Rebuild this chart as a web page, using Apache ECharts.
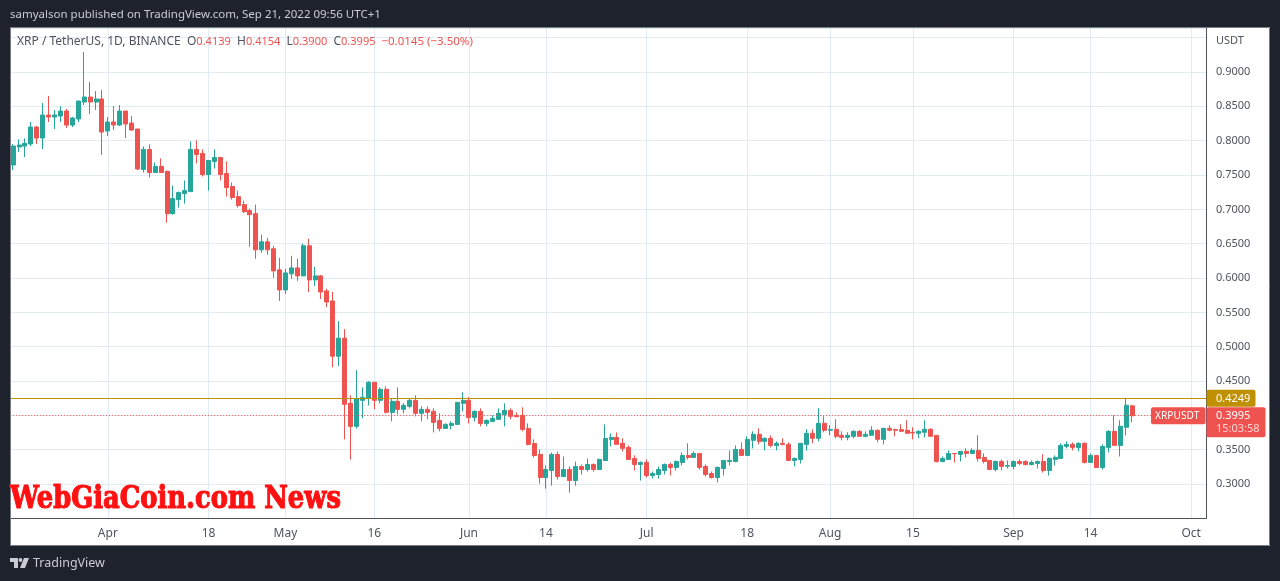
<!DOCTYPE html>
<html><head><meta charset="utf-8">
<style>html,body{margin:0;padding:0;background:#1e222d}#c{width:1280px;height:581px}</style>
<script src="https://cdn.jsdelivr.net/npm/echarts@6/dist/echarts.min.js"></script>
</head><body><div id="c"></div>
<script>
const firstDay = '2022-03-16';
const slotCount = 202;
const opens = [.7646,.7908,.7922,.7952,.8199,.8039,.8374,.8345,.8359,.8432,
.8228,.8316,.8563,.8636,.8563,.8607,.8141,.8272,.8228,.8432,
.8257,.8170,.7581,.7873,.7537,.7625,.7552,.6938,.7142,.7230,
.7259,.7873,.7815,.7508,.7698,.7756,.7522,.7332,.7186,.7069,
.6982,.6938,.6411,.6528,.6426,.6119,.5827,.6061,.6148,.6031,
.6470,.5973,.6031,.5812,.5666,.4862,.5125,.4176,.3840,.4219,
.4249,.4482,.4219,.4380,.4044,.4205,.4088,.4132,.4219,.4030,
.4088,.4059,.3927,.3810,.3854,.3869,.4176,.4219,.3971,.4059,
.3883,.3913,.3942,.4015,.4073,.4000,.4000,.3810,.3591,.3431,
.3095,.3197,.3431,.3109,.3212,.3051,.3255,.3212,.3285,.3212,
.3343,.3650,.3679,.3593,.3534,.3373,.3285,.3315,.3124,.3139,
.3198,.3285,.3241,.3315,.3417,.3388,.3446,.3256,.3154,.3095,
.3227,.3329,.3329,.3505,.3417,.3637,.3724,.3622,.3666,.3563,
.3593,.3578,.3344,.3359,.3578,.3739,.3666,.3885,.3783,.3798,
.3710,.3680,.3695,.3768,.3695,.3710,.3783,.3651,.3812,.3793,
.3793,.3783,.3754,.3739,.3754,.3798,.3710,.3329,.3359,.3446,
.3432,.3476,.3446,.3490,.3388,.3344,.3212,.3329,.3261,.3256,
.3329,.3329,.3285,.3300,.3329,.3198,.3359,.3373,.3549,.3578,
.3534,.3593,.3315,.3417,.3241,.3534,.3768,.3563,.3827,.4139];
const closes = [.7922,.7937,.7961,.8199,.8039,.8374,.8345,.8374,.8432,.8228,
.8330,.8578,.8636,.8563,.8607,.8126,.8272,.8228,.8432,.8243,
.8155,.7587,.7873,.7537,.7625,.7537,.6938,.7157,.7245,.7274,
.7873,.7800,.7508,.7712,.7756,.7508,.7318,.7172,.7055,.6967,
.6923,.6411,.6528,.6411,.6104,.5827,.6075,.6148,.6031,.6470,
.5973,.6031,.5797,.5651,.4862,.5125,.4161,.3840,.4244,.4263,
.4482,.4219,.4380,.4044,.4205,.4088,.4146,.4219,.4030,.4088,
.4044,.3898,.3810,.3869,.3883,.4190,.4219,.3971,.4059,.3883,
.3927,.3957,.4030,.4073,.3986,.3981,.3796,.3577,.3416,.3095,
.3212,.3431,.3109,.3212,.3051,.3255,.3212,.3285,.3212,.3358,
.3664,.3679,.3578,.3520,.3359,.3285,.3315,.3124,.3154,.3212,
.3285,.3241,.3329,.3417,.3388,.3446,.3241,.3139,.3095,.3241,
.3344,.3344,.3505,.3417,.3651,.3724,.3622,.3666,.3563,.3593,
.3578,.3344,.3373,.3593,.3739,.3666,.3885,.3783,.3793,.3695,
.3680,.3710,.3768,.3695,.3724,.3783,.3651,.3812,.3783,.3783,
.3768,.3739,.3744,.3768,.3798,.3695,.3329,.3373,.3446,.3441,
.3476,.3446,.3490,.3373,.3329,.3212,.3329,.3256,.3271,.3329,
.3300,.3285,.3315,.3329,.3198,.3373,.3388,.3563,.3578,.3534,
.3593,.3315,.3417,.3241,.3549,.3768,.3563,.3841,.4149,.3995];
const lows = [.7573,.7835,.7762,.7922,.7952,.7879,.8272,.8170,.8272,.8185,
.8199,.8272,.8519,.8388,.8447,.7791,.8068,.8155,.8214,.8039,
.8141,.7573,.7537,.7464,.7537,.7537,.6806,.6923,.7025,.7084,
.7259,.7669,.7479,.7274,.7596,.7420,.7186,.7142,.7025,.6947,
.6455,.6280,.6368,.6338,.6002,.5666,.5768,.5987,.5958,.6031,
.5797,.5885,.5695,.5578,.4701,.4716,.3650,.3358,.3810,.3957,
.4146,.4088,.4176,.4030,.3913,.4015,.4030,.4103,.3986,.3913,
.3942,.3752,.3767,.3810,.3796,.3869,.4059,.3883,.3913,.3840,
.3840,.3898,.3942,.3840,.3942,.3971,.3767,.3562,.3387,.3007,
.2934,.2978,.3066,.3109,.2876,.2978,.3139,.3182,.3182,.3212,
.3343,.3548,.3577,.3476,.3359,.3198,.3051,.3095,.3080,.3080,
.3139,.3124,.3198,.3271,.3359,.3388,.3212,.3110,.3080,.3022,
.3124,.3271,.3315,.3417,.3417,.3520,.3578,.3490,.3534,.3490,
.3563,.3344,.3256,.3300,.3490,.3593,.3622,.3754,.3710,.3666,
.3637,.3637,.3666,.3695,.3680,.3710,.3607,.3578,.3768,.3695,
.3768,.3739,.3651,.3666,.3680,.3695,.3315,.3315,.3359,.3315,
.3329,.3388,.3446,.3329,.3300,.3212,.3183,.3198,.3227,.3212,
.3271,.3271,.3271,.3227,.3168,.3124,.3271,.3373,.3520,.3490,
.3476,.3300,.3315,.3241,.3212,.3461,.3563,.3402,.3710,.3900];
const highs = [.7952,.8019,.8034,.8272,.8214,.8549,.8651,.8447,.8505,.8461,
.8345,.8578,.9291,.8854,.8723,.8738,.8345,.8505,.8519,.8432,
.8359,.8170,.7917,.7946,.7683,.7742,.7566,.7347,.7259,.7420,
.7990,.8005,.7873,.7712,.7873,.7756,.7698,.7391,.7274,.7128,
.7011,.7069,.6631,.6587,.6470,.6294,.6134,.6324,.6280,.6499,
.6572,.6163,.6046,.5841,.5797,.5373,.5257,.4292,.4658,.4409,
.4497,.4482,.4409,.4424,.4249,.4409,.4176,.4249,.4292,.4132,
.4132,.4103,.4030,.3883,.3913,.4190,.4336,.4263,.4073,.4103,
.3942,.4000,.4103,.4176,.4103,.4044,.4117,.3883,.3650,.3504,
.3270,.3460,.3474,.3401,.3255,.3328,.3285,.3372,.3299,.3372,
.3869,.3737,.3752,.3666,.3563,.3417,.3329,.3359,.3183,.3256,
.3300,.3315,.3344,.3461,.3593,.3476,.3446,.3285,.3183,.3256,
.3344,.3490,.3563,.3607,.3695,.3768,.3812,.3680,.3710,.3622,
.3666,.3607,.3388,.3593,.3798,.3798,.4105,.3988,.3856,.3944,
.3768,.3754,.3783,.3783,.3768,.3841,.3798,.3812,.3856,.3807,
.3871,.3929,.3827,.3783,.3929,.3812,.3710,.3402,.3490,.3446,
.3476,.3520,.3520,.3710,.3446,.3344,.3344,.3359,.3344,.3344,
.3359,.3344,.3344,.3344,.3432,.3388,.3417,.3593,.3622,.3607,
.3607,.3607,.3446,.3417,.3578,.3783,.4002,.3929,.4251,.4154];
const tickDates = ['2022-04-01','2022-04-18','2022-05-01','2022-05-16','2022-06-01','2022-06-14','2022-07-01','2022-07-18','2022-08-01','2022-08-15','2022-09-01','2022-09-14','2022-10-01'];
const tickLabels = ['Apr','18','May','16','Jun','14','Jul','18','Aug','15','Sep','14','Oct'];
const resistanceLevel = 0.4249;
const lastPrice = 0.3995;
const yHidden = ['0.2500','0.4000','0.9500'];

const FONT = '"Noto Sans", sans-serif';
const TEXT = '#50535e', UP = '#26a69a', DOWN = '#ef5350', GOLD = '#bf9000', DARK = '#1e222d', GRID = '#e1ecf2';

const categories = [];
const d0 = new Date(firstDay + 'T00:00:00Z');
for (let i = 0; i < slotCount; i++) categories.push(new Date(d0.getTime() + i * 86400000).toISOString().slice(0, 10));
const candles = opens.map((o, i) => [o, closes[i], lows[i], highs[i]]);
const isTick = (i, v) => tickDates.includes(v);

const chart = echarts.init(document.getElementById('c'), null, {renderer: 'canvas', width: 1280, height: 581});
const gridLeft = 10.2, gridTop = 28, gridH = 490.4;
function rich(x, y, text, r, z) {
  return {type: 'text', x, y, z: z || 50, silent: true, style: {text, rich: r, fontFamily: FONT, fontSize: 11, fill: TEXT, verticalAlign: 'middle'}};
}
function tag(x, y, w, h, fill, z) {
  return {type: 'rect', z: z || 40, silent: true, shape: {x, y, width: w, height: h, r: 2}, style: {fill}};
}
function label(x, y, text, fill, size) {
  return {type: 'text', x, y, z: 60, silent: true, style: {text, fill, fontFamily: FONT, fontSize: size || 11, verticalAlign: 'middle'}};
}
chart.setOption({
  animation: false,
  backgroundColor: DARK,
  grid: {left: gridLeft, top: gridTop, width: 1206 - gridLeft, height: gridH, containLabel: false},
  xAxis: {
    type: 'category', data: categories, boundaryGap: true,
    axisLine: {show: true, lineStyle: {color: TEXT, width: 1}},
    axisTick: {show: false},
    axisLabel: {interval: isTick, color: TEXT, fontFamily: FONT, fontSize: 12, margin: 9,
      formatter: v => tickLabels[tickDates.indexOf(v)] || ''},
    splitLine: {show: true, interval: isTick, alignWithLabel: true, lineStyle: {color: GRID, width: 1}}
  },
  yAxis: {
    type: 'value', position: 'right', min: 0.25, max: 0.9641, interval: 0.05, scale: true,
    axisLine: {show: true, lineStyle: {color: TEXT, width: 1}},
    axisTick: {show: false},
    axisLabel: {color: TEXT, fontFamily: FONT, fontSize: 11, margin: 10, padding: [4, 0, 0, 0], showMinLabel: false, showMaxLabel: false,
      formatter: v => { const s = v.toFixed(4); return yHidden.includes(s) ? '' : s; }},
    splitLine: {show: true, lineStyle: {color: GRID, width: 1}}
  },
  series: [{
    type: 'candlestick', data: candles, barWidth: 4.5,
    itemStyle: {color: UP, color0: DOWN, borderColor: UP, borderColor0: DOWN, borderWidth: 1},
    markLine: {silent: true, symbol: 'none', animation: false, precision: 4, label: {show: false},
      data: [
        {yAxis: resistanceLevel, lineStyle: {color: GOLD, width: 1, type: 'solid'}},
        {yAxis: lastPrice, lineStyle: {color: DOWN, width: 1, type: [1, 2]}}
      ]}
  }]
});
const yRes = chart.convertToPixel({yAxisIndex: 0}, resistanceLevel);
const yLast = chart.convertToPixel({yAxisIndex: 0}, lastPrice);
const redRich = {g: {fill: TEXT, fontFamily: FONT, fontSize: 12}, r: {fill: DOWN, fontFamily: FONT, fontSize: 11}, d: {fill: DOWN, fontFamily: FONT, fontSize: 11.5}};
chart.setOption({graphic: {elements: [
  {type: 'rect', z: -5, zlevel: 0, silent: true, shape: {x: 10, y: 27, width: 1260, height: 519}, style: {fill: '#ffffff'}},
  {type: 'rect', z: 30, silent: true, shape: {x: 0, y: 0, width: 10.5, height: 581}, style: {fill: DARK}},
  {type: 'rect', z: 31, silent: true, shape: {x: 10.5, y: 27.5, width: 1259, height: 518}, style: {fill: 'none', stroke: '#787b86', lineWidth: 1}},
  label(10, 15, 'samyalson published on TradingView.com, Sep 21, 2022 09:56 UTC+1', '#c9ccd3', 11.5),
  rich(17, 42, '{g|XRP / TetherUS, 1D, BINANCE  O}{r|0.4139}{g|  H}{r|0.4154}{g|  L}{r|0.3900}{g|  C}{r|0.3995}{d|  −0.0145 (−3.50%)}', redRich),
  label(1216, 40.5, 'USDT', TEXT),
  tag(1206.5, yRes - 8.5, 49, 17, GOLD),
  label(1216, yRes + 0.5, '0.4249', '#ffffff'),
  tag(1206.5, yLast - 8.5, 59, 30, DOWN),
  label(1216, yLast + 0.5, '0.3995', '#ffffff'),
  label(1216, yLast + 13.5, '15:03:58', '#fbd3d2'),
  tag(1151, yLast - 8.5, 54.5, 17, DOWN),
  label(1155, yLast + 0.5, 'XRPUSDT', '#ffffff', 10.2),
  {type: 'text', x: 10, y: 500, scaleX: 0.955, scaleY: 1.15, z: 60, silent: true, style: {text: 'WebGiaCoin.com News', fill: '#ff1111', fontFamily: '"DejaVu Serif", serif', fontWeight: 'bold', fontSize: 27, verticalAlign: 'middle', stroke: '#ff1111', lineWidth: 1}},
  {type: 'polygon', z: 60, silent: true, shape: {points: [[10, 558], [18, 558], [18, 568], [14, 568], [14, 562], [10, 562]]}, style: {fill: '#c9ccd3'}},
  {type: 'circle', z: 60, silent: true, shape: {cx: 20.5, cy: 560, r: 1.9}, style: {fill: '#c9ccd3'}},
  {type: 'polygon', z: 60, silent: true, shape: {points: [[24, 558], [29, 558], [25, 568], [20, 568]]}, style: {fill: '#c9ccd3'}},
  {type: 'text', x: 33, y: 563.5, z: 60, silent: true, style: {text: 'TradingView', fill: '#c9ccd3', fontFamily: FONT, fontSize: 12.5, verticalAlign: 'middle'}}
]}});
</script></body></html>
